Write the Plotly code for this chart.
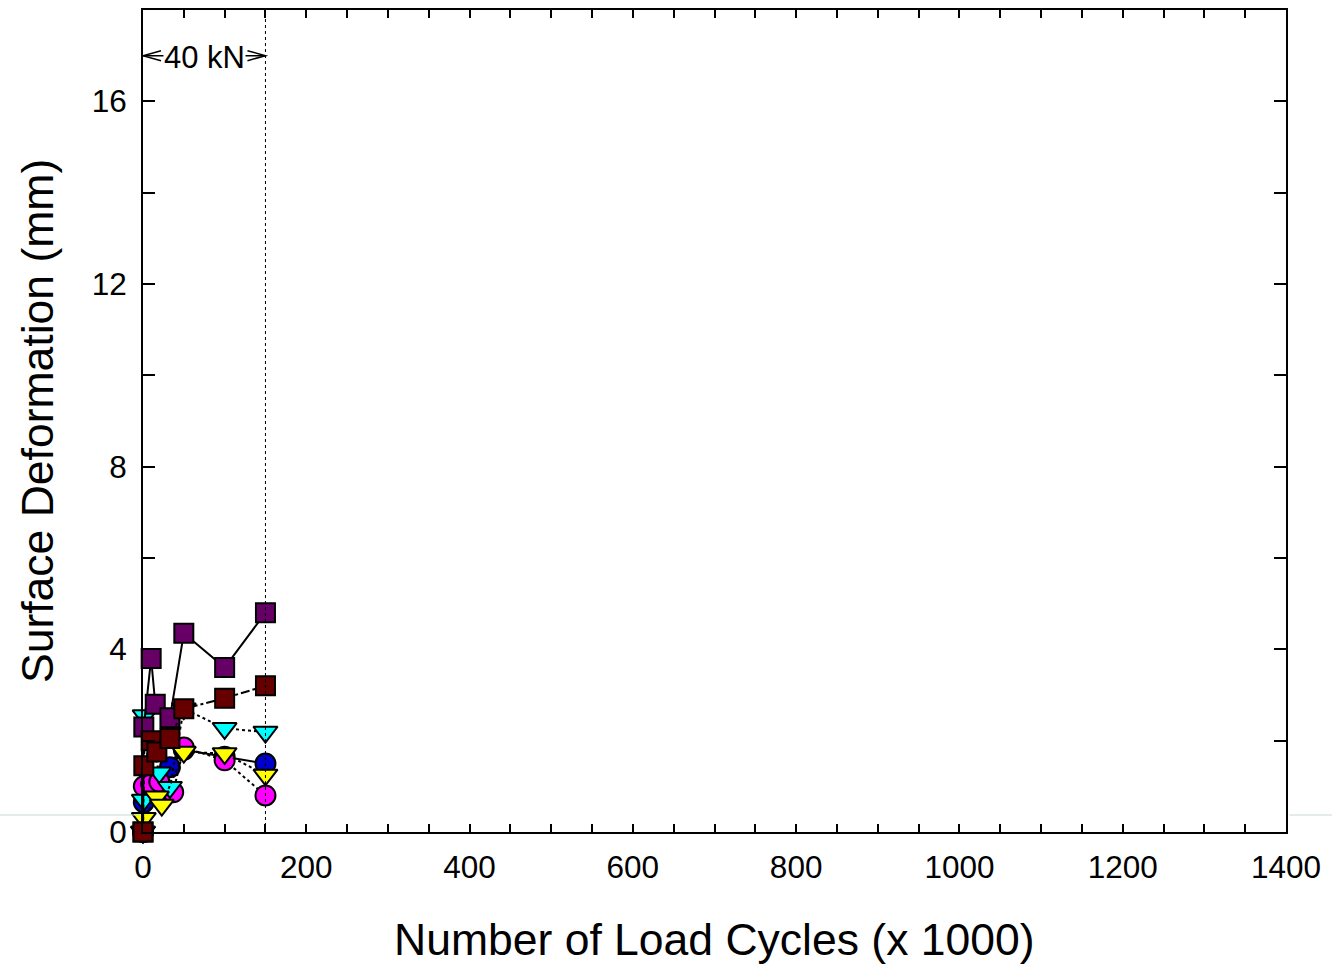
import plotly.graph_objects as go

# Data (x in thousands of load cycles, y in mm)
purple_x = [0, 1, 10, 15, 33, 50, 100, 150]
purple_y = [0, 2.3, 3.8, 2.8, 2.5, 4.35, 3.6, 4.8]

maroon_x = [0, 1, 10, 17, 33, 50, 100, 150]
maroon_y = [0, 1.45, 2.0, 1.75, 2.05, 2.7, 2.93, 3.2]

cyan_x = [0, 1, 2, 20, 33, 50, 100, 150]
cyan_y = [0, 0.7, 2.55, 1.3, 0.98, 2.7, 2.27, 2.19]

blue_x = [0, 1, 10, 20, 33, 50, 100, 150]
blue_y = [0, 0.65, 1.1, 1.05, 1.42, 1.8, 1.65, 1.5]

magenta_x = [0, 1, 10, 20, 37, 50, 100, 150]
magenta_y = [0, 1.0, 1.05, 1.1, 0.87, 1.85, 1.57, 0.8]

yellow_x = [0, 1, 17, 23, 50, 100, 150]
yellow_y = [0, 0.3, 0.77, 0.59, 1.75, 1.72, 1.25]

load_start, load_end, load_level = 0, 150, 17
load_label = "40 kN"

x_title = "Number of Load Cycles (x 1000)"
y_title = "Surface Deformation (mm)"

x_range = [0, 1400]
y_range = [0, 18]

fig = go.Figure()

series = [
    (blue_x, blue_y, "circle", "#0000cc", "solid", 20),
    (magenta_x, magenta_y, "circle", "#ff00ff", "dot", 20),
    (cyan_x, cyan_y, "triangle-down", "#00ffff", "dot", 21),
    (yellow_x, yellow_y, "triangle-down", "#ffff00", "dot", 21),
    (purple_x, purple_y, "square", "#660066", "solid", 19),
    (maroon_x, maroon_y, "square", "#660000", "dashdot", 19),
]
for xs, ys, sym, col, dash, sz in series:
    fig.add_trace(go.Scatter(
        x=xs, y=ys, mode="lines+markers",
        line=dict(color="black", width=2, dash=dash),
        marker=dict(symbol=sym, size=sz, color=col, line=dict(color="black", width=2)),
        showlegend=False, cliponaxis=False,
    ))

# vertical dotted line marking end of load stage
fig.add_shape(type="line", xref="x", yref="y", x0=load_end, x1=load_end, y0=y_range[0], y1=y_range[1],
              line=dict(color="black", width=1, dash="dot"))
# horizontal double arrow
fig.add_shape(type="line", xref="x", yref="y", x0=load_start, x1=load_end, y0=load_level, y1=load_level,
              line=dict(color="black", width=1.5))
fig.add_shape(type="path", xref="x", yref="y", xsizemode="pixel", ysizemode="pixel",
              xanchor=load_start, yanchor=load_level, path="M 18 5 L 0 0 L 18 -5",
              line=dict(color="black", width=1.5))
fig.add_shape(type="path", xref="x", yref="y", xsizemode="pixel", ysizemode="pixel",
              xanchor=load_end, yanchor=load_level, path="M -18 5 L 0 0 L -18 -5",
              line=dict(color="black", width=1.5))
fig.add_annotation(x=(load_start + load_end) / 2, y=load_level, xref="x", yref="y",
                   text=load_label, showarrow=False, bgcolor="white", borderpad=0, yshift=-2,
                   font=dict(family="Liberation Sans, Arial", size=31, color="black"))

# faint page line outside the plot area
for xa, xb in [(-143 / 1143, -0.003), (1.003, 1332 / 1143)]:
    fig.add_shape(type="line", xref="paper", yref="paper", x0=xa, x1=xb, y0=17 / 822, y1=17 / 822,
                  line=dict(color="#c4dccb", width=1))

axis_font = dict(family="Liberation Sans, Arial", size=31.5, color="black")
title_font = dict(family="Liberation Sans, Arial", size=44.5, color="black")

# axis titles
fig.add_annotation(x=0.5, y=(832 - 939) / 822, xref="paper", yref="paper", text=x_title,
                   showarrow=False, xanchor="center", yanchor="middle", font=title_font)
fig.add_annotation(x=(37 - 143) / 1143, y=0.5, xref="paper", yref="paper", text=y_title,
                   showarrow=False, xanchor="center", yanchor="middle", textangle=-90, font=title_font)

fig.update_xaxes(
    range=x_range, dtick=200, tick0=0, ticks="inside", ticklen=8, tickwidth=2, tickcolor="black",
    minor=dict(dtick=50, ticks="inside", ticklen=8, tickwidth=2, tickcolor="black"),
    showline=True, linecolor="black", linewidth=2, mirror="ticks", showgrid=False, zeroline=False,
    tickfont=axis_font, ticklabelstandoff=6, automargin=False,
)
fig.update_yaxes(
    range=y_range, dtick=4, tick0=0, ticks="inside", ticklen=12, tickwidth=2, tickcolor="black",
    minor=dict(dtick=2, ticks="inside", ticklen=12, tickwidth=2, tickcolor="black"),
    showline=True, linecolor="black", linewidth=2, mirror="ticks", showgrid=False, zeroline=False,
    tickfont=axis_font, ticklabelstandoff=8, automargin=False,
)

fig.update_layout(
    width=1332, height=965,
    margin=dict(l=143, r=46, t=10, b=133),
    plot_bgcolor="white", paper_bgcolor="white",
)

fig.write_html("out.html")
